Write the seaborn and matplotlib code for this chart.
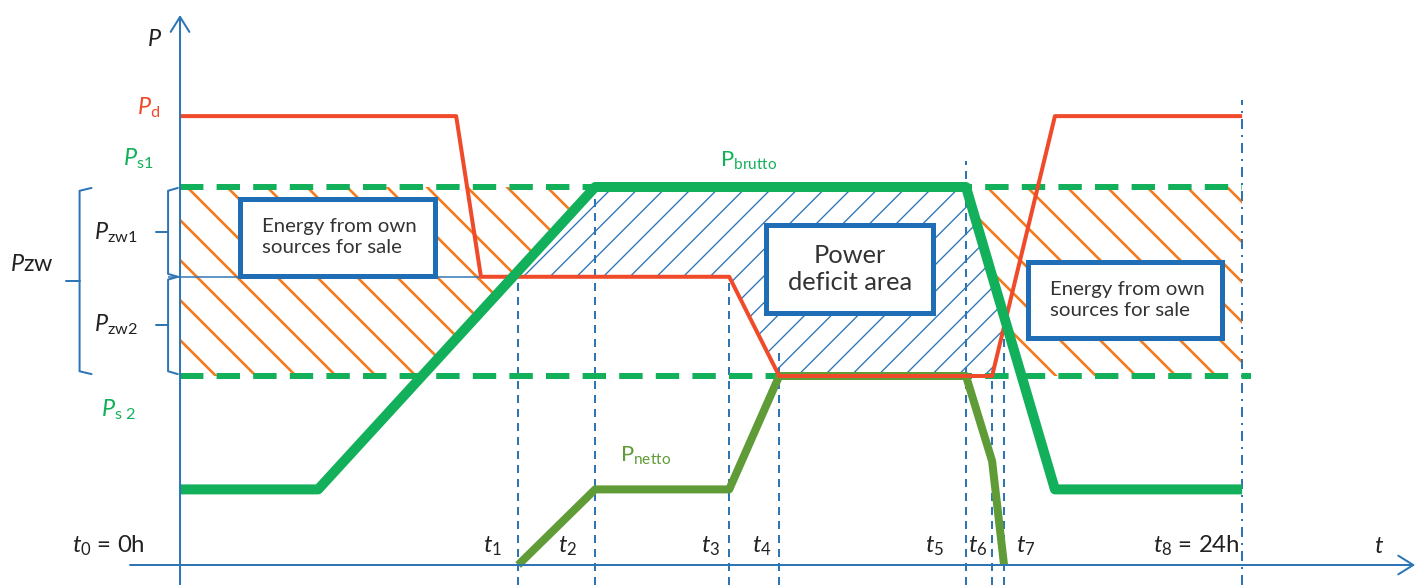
import numpy as np
import pandas as pd
import matplotlib
matplotlib.use("Agg")
import matplotlib.pyplot as plt
import seaborn as sns
from matplotlib.patches import Rectangle

# ---------------- data (time in hours, power in relative units) ----------------
t_marks = [0, 7.64, 9.38, 12.41, 13.54, 17.76, 18.35, 18.62, 24]
t_labels = ["$t_0$ = 0h", "$t_1$", "$t_2$", "$t_3$", "$t_4$", "$t_5$", "$t_6$", "$t_7$", "$t_8$ = 24h"]

pd_time = [0, 6.24, 6.80, 12.41, 13.54, 18.35, 19.77, 24]
pd_power = [23.75, 23.75, 15.25, 15.25, 10, 10, 23.75, 23.75]

brutto_time = [0, 3.12, 9.38, 17.76, 19.77, 24]
brutto_power = [4, 4, 20, 20, 4, 4]

netto_time = [7.64, 9.38, 12.41, 13.54, 17.76, 18.35, 18.62]
netto_power = [0, 4, 4, 10, 10, 5.5, 0]

ps1 = 20
ps2 = 10
pzw_split = 15.25

# ---------------- layout (not data) ----------------
guide_tops = [None, 15.25, 20, 15.25, 11.4, 21.4, 10, 12.1, 24.6]
label_x = [-0.79, 7.05, 8.75, 11.98, 13.15, 17.06, 18.03, 19.1, 23.95]
XL = (-4.068, 28.11)
YL = (-1.058, 29.894)

RED = "#ef4a2a"
GREEN = "#12b05a"
OLIVE = "#5f9b36"
BLUE = "#2e75b6"
ORANGE = "#f47c20"
BOXBLUE = "#1f6db5"

sns.set_theme(style="white")
plt.rcParams["font.family"] = ["Lato", "DejaVu Sans"]
plt.rcParams["mathtext.fontset"] = "custom"
plt.rcParams["mathtext.rm"] = "Lato"
plt.rcParams["mathtext.it"] = "Lato:italic"
plt.rcParams["mathtext.bf"] = "Lato:bold"
plt.rcParams["hatch.linewidth"] = 0.8

fig = plt.figure(figsize=(5.9334, 2.4375), dpi=240)
ax = fig.add_axes([0, 0, 1, 1])
ax.set_xlim(*XL)
ax.set_ylim(*YL)
ax.axis("off")

# ---------------- hatched areas ----------------
yy = np.linspace(ps2, ps1, 400)
left_edge = np.interp(yy, brutto_power[1:3], brutto_time[1:3])
right_edge = np.interp(yy, brutto_power[3:5][::-1], brutto_time[3:5][::-1])
for x1, x2 in [(np.full_like(yy, t_marks[0]), left_edge), (right_edge, np.full_like(yy, t_marks[-1]))]:
    pc = ax.fill_betweenx(yy, x1, x2, facecolor="none", edgecolor=ORANGE, hatch="\\\\", linewidth=0, zorder=1)

xx = np.linspace(t_marks[0], t_marks[-1], 4000)
red_i = np.interp(xx, pd_time, pd_power)
br_i = np.interp(xx, brutto_time, brutto_power)
pcb = ax.fill_between(xx, red_i, br_i, where=br_i > red_i, interpolate=True,
                      facecolor="none", edgecolor=BLUE, hatch="///", linewidth=0, zorder=1)
if hasattr(pcb, "set_hatch_linewidth"):
    pcb.set_hatch_linewidth(0.4)

# split line between Pzw1 and Pzw2
ax.plot([-0.27, t_marks[1]], [pzw_split, pzw_split], color=BLUE, lw=0.45, zorder=2)

# dashed Ps1 / Ps2 levels
ax.plot([t_marks[0], t_marks[-1]], [ps1, ps1], color=GREEN, lw=1.8, dashes=(3.9, 2.2), zorder=3)
ax.plot([t_marks[0], t_marks[-1] + 0.2], [ps2, ps2], color=GREEN, lw=1.8, dashes=(3.9, 2.2), zorder=3)

# vertical guides
for i in range(1, len(t_marks)):
    ls = (0, (5, 3, 1, 3)) if i == len(t_marks) - 1 else (0, (4, 3))
    ax.plot([t_marks[i], t_marks[i]], [YL[0], guide_tops[i]], color=BLUE, lw=0.6, ls=ls, zorder=2)

# ---------------- series ----------------
sns.lineplot(x=netto_time, y=netto_power, sort=False, estimator=None, color=OLIVE, lw=2.4, ax=ax, zorder=4)
sns.lineplot(x=pd_time, y=pd_power, sort=False, estimator=None, color=RED, lw=1.2, ax=ax, zorder=5)
sns.lineplot(x=brutto_time, y=brutto_power, sort=False, estimator=None, color=GREEN, lw=3.0, ax=ax, zorder=6)
for ln in ax.lines:
    ln.set_solid_capstyle("butt")

# ---------------- axes arrows ----------------
ap = dict(arrowstyle="->,head_length=0.45,head_width=0.28", color=BLUE, lw=0.6,
          shrinkA=0, shrinkB=0, mutation_scale=10)
ax.annotate("", xy=(27.91, 0), xytext=(-1.13, 0), arrowprops=ap, zorder=8)
ax.annotate("", xy=(0, 29.1), xytext=(0, YL[0]), arrowprops=ap, zorder=8)

# ---------------- braces ----------------
def brace(x, y0, y1, hook, tip):
    ym = (y0 + y1) / 2
    ax.plot([x + hook, x, x, x + hook], [y1, y1 - 0.15, y0 + 0.15, y0], color=BLUE, lw=0.6, zorder=3)
    ax.plot([x, x - tip], [ym, ym], color=BLUE, lw=0.6, zorder=3)

brace(-2.27, ps2 + 0.1, ps1 - 0.05, 0.27, 0.3)
brace(-0.27, pzw_split, ps1 - 0.05, 0.22, 0.28)
brace(-0.27, ps2 + 0.1, pzw_split, 0.22, 0.28)

# ---------------- labels ----------------
fs = 7.0
ax.text(-0.4, 27.8, "$P$", color="#222222", fontsize=fs, ha="right", va="center")
ax.text(-0.45, 24.2, r"$P_{\mathrm{d}}$", color=RED, fontsize=fs, ha="right", va="center")
ax.text(-0.6, 21.5, r"$P_{\mathrm{s1}}$", color=GREEN, fontsize=fs, ha="right", va="center")
ax.text(-0.95, 17.6, r"$P_{\mathrm{zw1}}$", color="#222222", fontsize=fs, ha="right", va="center")
ax.text(-0.95, 12.7, r"$P_{\mathrm{zw2}}$", color="#222222", fontsize=fs, ha="right", va="center")
ax.text(-3.85, 15.9, "$P$zw", color="#222222", fontsize=fs, ha="left", va="center")
ax.text(-1.0, 8.2, r"$P_{\mathrm{s\ 2}}$", color=GREEN, fontsize=fs, ha="right", va="center")
ax.text(12.2, 21.4, r"$\mathrm{P}_{\mathrm{brutto}}$", color=GREEN, fontsize=6.6, ha="left", va="center")
ax.text(9.95, 5.8, r"$\mathrm{P}_{\mathrm{netto}}$", color=OLIVE, fontsize=6.6, ha="left", va="center")

for lx, lab in zip(label_x, t_labels):
    ha = "right" if "=" in lab else "center"
    ax.text(lx, 1.0, lab, color="#222222", fontsize=7.2, ha=ha, va="center")
ax.text(27.1, 1.0, "$t$", color="#222222", fontsize=7.2, ha="center", va="center")

# ---------------- text boxes ----------------
boxes = [
    (1.356, 15.29, 4.407, 4.08, 1.85, 17.35, "Energy from own\nsources for sale", 6.1, "left"),
    (13.24, 13.33, 3.78, 4.66, 15.14, 15.66, "Power\ndeficit area", 7.6, "center"),
    (19.16, 12.01, 4.39, 4.02, 19.66, 14.02, "Energy from own\nsources for sale", 6.1, "left"),
]
for bx, by, bw, bh, tx, ty, txt, tfs, tha in boxes:
    ax.add_patch(Rectangle((bx, by), bw, bh, facecolor="white", edgecolor=BOXBLUE, lw=1.5, zorder=9))
    ax.text(tx, ty, txt, fontsize=tfs, ha=tha, va="center", multialignment=tha,
            color="#333333", zorder=10, linespacing=1.25)

fig.savefig("out.png", dpi=240)
